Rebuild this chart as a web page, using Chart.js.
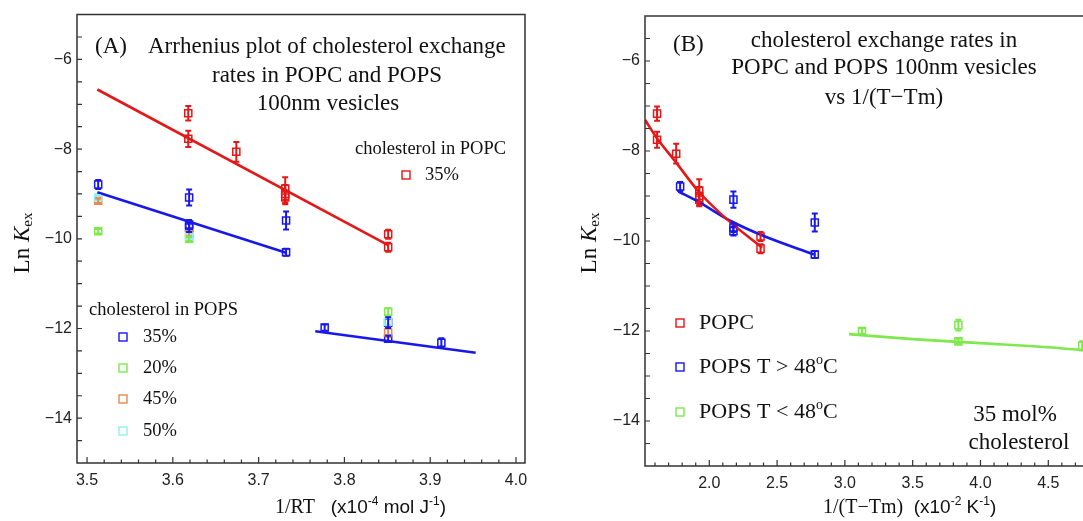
<!DOCTYPE html>
<html>
<head>
<meta charset="utf-8">
<script src="https://cdn.jsdelivr.net/npm/chart.js@4.4.1/dist/chart.umd.min.js"></script>
<style>
  html, body { margin: 0; padding: 0; background: #fff; overflow: hidden; }
  #wrap { position: relative; width: 1083px; height: 521px; overflow: hidden; }
  canvas { position: absolute; top: 0; }
  #chartA { left: 0; }
  #chartB { left: 560px; }
</style>
</head>
<body>
<div id="wrap">
  <canvas id="chartA" width="545" height="521"></canvas>
  <canvas id="chartB" width="531" height="521"></canvas>
</div>
<script>
// ---- data ----
// Panel A: Ln Kex vs 1/RT (x10^-4 mol/J)
const popcA_x = [3.618, 3.618, 3.674, 3.731, 3.731, 3.731, 3.851, 3.851];
const popcA_y = [-7.20, -7.77, -8.06, -8.88, -9.00, -9.08, -9.90, -10.19];
const popcA_err = [0.16, 0.18, 0.22, 0.25, 0.20, 0.15, 0.10, 0.10];

const pops35A_x = [3.513, 3.619, 3.619, 3.619, 3.732, 3.732, 3.777, 3.851, 3.851, 3.913];
const pops35A_y = [-8.79, -9.08, -9.68, -9.75, -9.59, -10.30, -11.98, -11.87, -12.23, -12.32];
const pops35A_err = [0.10, 0.18, 0.10, 0.10, 0.20, 0.08, 0.07, 0.12, 0.07, 0.10];

const pops20A_x = [3.513, 3.619, 3.851];
const pops20A_y = [-9.83, -10.00, -11.63];
const pops20A_err = [0.05, 0.05, 0.08];

const pops45A_x = [3.513, 3.619, 3.851];
const pops45A_y = [-9.15, -9.90, -12.09];
const pops45A_err = [0.05, 0.05, 0.10];

const pops50A_x = [3.513, 3.619, 3.851];
const pops50A_y = [-9.08, -9.95, -11.85];
const pops50A_err = [0.05, 0.05, 0.08];

// fitted lines in panel A (end points)
const fitPopcA_x = [3.512, 3.851];
const fitPopcA_y = [-6.67, -10.14];
const fitPopsHiA_x = [3.512, 3.732];
const fitPopsHiA_y = [-8.96, -10.31];
const fitPopsLoA_x = [3.766, 3.953];
const fitPopsLoA_y = [-12.06, -12.54];

// Panel B: Ln Kex vs 1/(T-Tm) (x10^-2 1/K)
const popcB_x = [1.615, 1.615, 1.756, 1.926, 1.926, 1.926, 2.378, 2.378];
const popcB_y = [-7.17, -7.75, -8.06, -8.88, -9.00, -9.08, -9.90, -10.17];
const popcB_err = [0.16, 0.18, 0.22, 0.25, 0.20, 0.15, 0.10, 0.10];

const popsHiB_x = [1.785, 2.178, 2.178, 2.178, 2.778, 2.778];
const popsHiB_y = [-8.79, -9.08, -9.70, -9.78, -9.59, -10.30];
const popsHiB_err = [0.10, 0.18, 0.10, 0.10, 0.20, 0.08];

const popsLoB_x = [3.126, 3.837, 3.837, 4.750];
const popsLoB_y = [-12.00, -11.87, -12.23, -12.33];
const popsLoB_err = [0.06, 0.12, 0.06, 0.10];

// fitted curves in panel B
const fitPopcB_x = [1.527, 1.613, 1.749, 1.921, 2.131, 2.390];
const fitPopcB_y = [-7.31, -7.71, -8.23, -8.90, -9.52, -10.15];
const fitPopsHiB_x = [1.773, 1.921, 2.155, 2.402, 2.771];
const fitPopsHiB_y = [-8.90, -9.13, -9.55, -9.89, -10.30];
const fitPopsLoB_x = [3.03, 3.5, 4.0, 4.5, 4.77];
const fitPopsLoB_y = [-12.07, -12.18, -12.27, -12.36, -12.43];

// ---- styling ----
const RED = '#e41818';
const BLUE = '#1818ea';
const GREEN = '#7ee84c';
const ORANGE = '#e8884c';
const CYAN = '#90f0f0';
const SERIF = '"Liberation Serif", "Times New Roman", serif';
const SANS = '"Liberation Sans", Arial, sans-serif';

function pts(xs, ys) { return xs.map((x, i) => ({ x: x, y: ys[i] })); }
function isMult(v, step) { const r = v / step; return Math.abs(r - Math.round(r)) < 1e-6; }
function minusLabel(v) { return v < 0 ? '\u2212' + Math.abs(v) : String(v); }

function pointSet(label, xs, ys, errs, color, order) {
  return {
    label: label, data: pts(xs, ys), errs: errs,
    pointStyle: 'rect', pointRadius: 5, pointBorderWidth: 1.5,
    pointBackgroundColor: 'rgba(0,0,0,0)', borderColor: color, backgroundColor: color,
    showLine: false, clip: false, order: order
  };
}
function fitSet(xs, ys, color, curved) {
  return {
    label: 'fit', data: pts(xs, ys), showLine: true, pointRadius: 0,
    borderColor: color, borderWidth: 2.6, fill: false, order: 0,
    cubicInterpolationMode: curved ? 'monotone' : 'default'
  };
}

function drawRuns(ctx, runs, x, y, align) {
  let w = 0;
  runs.forEach(r => { ctx.font = r.font; w += ctx.measureText(r.t).width; });
  let cx = align === 'center' ? x - w / 2 : (align === 'right' ? x - w : x);
  runs.forEach(r => {
    ctx.font = r.font;
    ctx.fillText(r.t, cx, y + (r.dy || 0));
    cx += ctx.measureText(r.t).width;
  });
}

const decor = {
  id: 'decor',
  afterDatasetsDraw(chart) {
    // error bars
    const ctx = chart.ctx;
    const ys = chart.scales.y;
    chart.data.datasets.forEach((ds, di) => {
      if (!ds.errs) return;
      const meta = chart.getDatasetMeta(di);
      ctx.save();
      ctx.strokeStyle = ds.borderColor;
      ctx.lineWidth = 2;
      meta.data.forEach((el, i) => {
        const e = ds.errs[i];
        const v = ds.data[i].y;
        const top = ys.getPixelForValue(v + e);
        const bot = ys.getPixelForValue(v - e);
        ctx.beginPath();
        ctx.moveTo(el.x, top); ctx.lineTo(el.x, bot);
        ctx.moveTo(el.x - 3, top); ctx.lineTo(el.x + 3, top);
        ctx.moveTo(el.x - 3, bot); ctx.lineTo(el.x + 3, bot);
        ctx.stroke();
      });
      ctx.restore();
    });
  },
  afterDraw(chart, args, opts) {
    const ctx = chart.ctx;
    const a = chart.chartArea;
    const xs = chart.scales.x, ys = chart.scales.y;
    ctx.save();
    // frame
    ctx.strokeStyle = '#333';
    ctx.lineWidth = 1.5;
    ctx.beginPath();
    if (opts.rightBorder) {
      ctx.rect(a.left, a.top, a.right - a.left, a.bottom - a.top);
    } else {
      ctx.moveTo(a.right + 10, a.top); ctx.lineTo(a.left, a.top);
      ctx.lineTo(a.left, a.bottom); ctx.lineTo(a.right + 10, a.bottom);
    }
    ctx.stroke();
    // inward ticks
    ctx.lineWidth = 1.2;
    ctx.beginPath();
    xs.ticks.forEach(t => {
      let len = 0;
      if (isMult(t.value, opts.xMajor)) len = 6;
      else if (isMult(t.value, opts.xMinor)) len = 3.5;
      if (!len) return;
      const px = xs.getPixelForValue(t.value);
      if (px <= a.left + 1 || px >= a.right - 1) return;
      ctx.moveTo(px, a.bottom); ctx.lineTo(px, a.bottom - len);
    });
    ys.ticks.forEach(t => {
      if (!isMult(t.value, 0.5)) return;
      const py = ys.getPixelForValue(t.value);
      if (py <= a.top + 1 || py >= a.bottom - 1) return;
      ctx.moveTo(a.left, py); ctx.lineTo(a.left + 5, py);
    });
    ctx.stroke();
    // legend markers
    (opts.markers || []).forEach(m => {
      ctx.strokeStyle = m.color;
      ctx.lineWidth = 1.4;
      ctx.strokeRect(m.x - 4, m.y - 4, 8, 8);
    });
    // texts
    ctx.fillStyle = '#111';
    ctx.textBaseline = 'middle';
    ctx.textAlign = 'left';
    (opts.texts || []).forEach(tx => {
      ctx.save();
      ctx.translate(tx.x, tx.y);
      if (tx.rot) ctx.rotate(tx.rot);
      drawRuns(ctx, tx.runs, 0, 0, tx.align || 'left');
      ctx.restore();
    });
    ctx.restore();
  }
};

function serif(px, style) { return (style || '') + ' ' + px + 'px ' + SERIF; }
function sans(px) { return px + 'px ' + SANS; }
function line(t, px) { return [{ t: t, font: serif(px) }]; }
const yTitleRuns = [
  { t: 'Ln ', font: serif(23) },
  { t: 'K', font: serif(23, 'italic') },
  { t: 'ex', font: serif(15), dy: 5 }
];

function baseOptions(cfg) {
  return {
    responsive: false,
    animation: false,
    events: [],
    layout: { padding: cfg.padding },
    plugins: {
      legend: { display: false },
      tooltip: { enabled: false },
      decor: cfg.decor
    },
    scales: {
      x: {
        type: 'linear', min: cfg.xMin, max: cfg.xMax,
        grid: { display: false, drawTicks: false },
        border: { display: false },
        ticks: {
          stepSize: cfg.xStep, includeBounds: false, autoSkip: false, maxRotation: 0, padding: 8,
          color: '#222', font: { family: SANS, size: 16 },
          callback: v => isMult(v, cfg.xLabelStep) ? v.toFixed(1) : ''
        },
        afterFit: s => { s.height = cfg.xHeight; }
      },
      y: {
        type: 'linear', min: -15, max: -5,
        grid: { display: false, drawTicks: false },
        border: { display: false },
        ticks: {
          stepSize: 0.5, autoSkip: false, padding: 5,
          color: '#222', font: { family: SANS, size: 16 },
          callback: v => isMult(v, 2) ? minusLabel(v) : ''
        },
        afterFit: s => { s.width = cfg.yWidth; }
      }
    }
  };
}

// ---- panel A ----
new Chart(document.getElementById('chartA'), {
  type: 'scatter',
  data: {
    datasets: [
      fitSet(fitPopcA_x, fitPopcA_y, RED, false),
      fitSet(fitPopsHiA_x, fitPopsHiA_y, BLUE, false),
      fitSet(fitPopsLoA_x, fitPopsLoA_y, BLUE, false),
      pointSet('POPC 35%', popcA_x, popcA_y, popcA_err, RED, 1),
      pointSet('POPS 50%', pops50A_x, pops50A_y, pops50A_err, CYAN, 2),
      pointSet('POPS 45%', pops45A_x, pops45A_y, pops45A_err, ORANGE, 3),
      pointSet('POPS 20%', pops20A_x, pops20A_y, pops20A_err, GREEN, 4),
      pointSet('POPS 35%', pops35A_x, pops35A_y, pops35A_err, BLUE, 5)
    ]
  },
  options: baseOptions({
    padding: { top: 14, right: 20, left: 0, bottom: 0 },
    xMin: 3.4883, xMax: 4.0105, xStep: 0.02, xLabelStep: 0.1, xHeight: 58, yWidth: 77,
    decor: {
      rightBorder: true, xMajor: 0.1, xMinor: 0.02,
      markers: [
        { x: 406, y: 175, color: RED },
        { x: 123, y: 337, color: BLUE },
        { x: 123, y: 368, color: GREEN },
        { x: 123, y: 399, color: ORANGE },
        { x: 123, y: 431, color: CYAN }
      ],
      texts: [
        { x: 95, y: 47, runs: line('(A)', 23) },
        { x: 148, y: 47, runs: line('Arrhenius plot of cholesterol exchange', 23) },
        { x: 327, y: 76, runs: line('rates in POPC and POPS', 23), align: 'center' },
        { x: 328, y: 104, runs: line('100nm vesicles', 23), align: 'center' },
        { x: 355, y: 149, runs: line('cholesterol in POPC', 18.5) },
        { x: 425, y: 175, runs: line('35%', 18.5) },
        { x: 89, y: 310, runs: line('cholesterol in POPS', 18.5) },
        { x: 143, y: 337, runs: line('35%', 18.5) },
        { x: 143, y: 368, runs: line('20%', 18.5) },
        { x: 143, y: 399, runs: line('45%', 18.5) },
        { x: 143, y: 431, runs: line('50%', 18.5) },
        { x: 275, y: 508, runs: [
          { t: '1/RT', font: serif(20) },
          { t: '   (x10', font: sans(19) },
          { t: '-4', font: sans(12), dy: -6 },
          { t: ' mol J', font: sans(19) },
          { t: '-1', font: sans(12), dy: -6 },
          { t: ')', font: sans(19) }
        ] },
        { x: 23, y: 243, rot: -Math.PI / 2, runs: yTitleRuns, align: 'center' }
      ]
    }
  }),
  plugins: [decor]
});

// ---- panel B ----
new Chart(document.getElementById('chartB'), {
  type: 'scatter',
  data: {
    datasets: [
      fitSet(fitPopcB_x, fitPopcB_y, RED, true),
      fitSet(fitPopsHiB_x, fitPopsHiB_y, BLUE, true),
      fitSet(fitPopsLoB_x, fitPopsLoB_y, GREEN, true),
      pointSet('POPC', popcB_x, popcB_y, popcB_err, RED, 1),
      pointSet('POPS T > 48oC', popsHiB_x, popsHiB_y, popsHiB_err, BLUE, 2),
      pointSet('POPS T < 48oC', popsLoB_x, popsLoB_y, popsLoB_err, GREEN, 3)
    ]
  },
  options: baseOptions({
    padding: { top: 16, right: 0, left: 0, bottom: 0 },
    xMin: 1.526, xMax: 4.767, xStep: 0.1, xLabelStep: 0.5, xHeight: 55, yWidth: 85,
    decor: {
      rightBorder: false, xMajor: 0.5, xMinor: 0.1,
      markers: [
        { x: 120, y: 323, color: RED },
        { x: 120, y: 367, color: BLUE },
        { x: 120, y: 412, color: GREEN }
      ],
      texts: [
        { x: 113, y: 45, runs: line('(B)', 23) },
        { x: 324, y: 41, runs: line('cholesterol exchange rates in', 23), align: 'center' },
        { x: 324, y: 68, runs: line('POPC and POPS 100nm vesicles', 23), align: 'center' },
        { x: 324, y: 98, runs: line('vs 1/(T\u2212Tm)', 23), align: 'center' },
        { x: 139, y: 323, runs: line('POPC', 22) },
        { x: 139, y: 367, runs: [
          { t: 'POPS T > 48', font: serif(22) },
          { t: 'o', font: serif(14), dy: -7 },
          { t: 'C', font: serif(22) }
        ] },
        { x: 139, y: 412, runs: [
          { t: 'POPS T < 48', font: serif(22) },
          { t: 'o', font: serif(14), dy: -7 },
          { t: 'C', font: serif(22) }
        ] },
        { x: 455, y: 415, runs: line('35 mol%', 23), align: 'center' },
        { x: 459, y: 443, runs: line('cholesterol', 23), align: 'center' },
        { x: 263, y: 508, runs: [
          { t: '1/(T\u2212Tm)', font: serif(20) },
          { t: '  (x10', font: sans(19) },
          { t: '-2', font: sans(12), dy: -6 },
          { t: ' K', font: sans(19) },
          { t: '-1', font: sans(12), dy: -6 },
          { t: ')', font: sans(19) }
        ] },
        { x: 30, y: 243, rot: -Math.PI / 2, runs: yTitleRuns, align: 'center' }
      ]
    }
  }),
  plugins: [decor]
});
</script>
</body>
</html>
